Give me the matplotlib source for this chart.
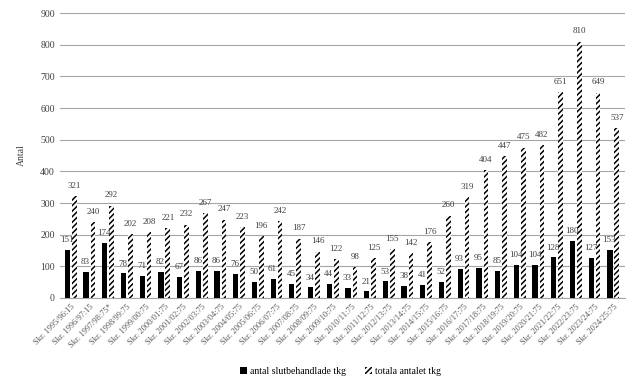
import matplotlib
matplotlib.use('Agg')
import matplotlib.pyplot as plt
import numpy as np

plt.rcParams['font.family'] = ['Liberation Serif', 'DejaVu Serif']
plt.rcParams['hatch.linewidth'] = 1.1

categories = ['Skr. 1995/96:15', 'Skr. 1996/97:15', 'Skr. 1997/98:75*', 'Skr. 1998/99:75',
              'Skr. 1999/00:75', 'Skr. 2000/01:75', 'Skr. 2001/02:75', 'Skr. 2002/03:75',
              'Skr. 2003/04:75', 'Skr. 2004/05:75', 'Skr. 2005/06:75', 'Skr. 2006/07:75',
              'Skr. 2007/08:75', 'Skr. 2008/09:75', 'Skr. 2009/10:75', 'Skr. 2010/11:75',
              'Skr. 2011/12:75', 'Skr. 2012/13:75', 'Skr. 2013/14:75', 'Skr. 2014/15:75',
              'Skr. 2015/16:75', 'Skr. 2016/17:75', 'Skr. 2017/18:75', 'Skr. 2018/19:75',
              'Skr. 2019/20:75', 'Skr. 2020/21:75', 'Skr. 2021/22:75', 'Skr. 2022/23:75',
              'Skr. 2023/24:75', 'Skr. 2024/25:75']
slutbehandlade = [151, 83, 174, 78, 71, 82, 67, 86, 86, 76, 50, 61, 45, 34, 44,
                  33, 21, 53, 38, 41, 52, 93, 95, 85, 104, 104, 128, 180, 127, 153]
totala = [321, 240, 292, 202, 208, 221, 232, 267, 247, 223, 196, 242, 187, 146, 122,
          98, 125, 155, 142, 176, 260, 319, 404, 447, 475, 482, 651, 810, 649, 537]

fig = plt.figure(figsize=(6.42, 3.85), dpi=100)
ax = fig.add_axes([0.093, 0.226, 0.880, 0.740])

x = np.arange(len(categories))
w1, w2 = 0.28, 0.25
b1 = ax.bar(x - 0.19, slutbehandlade, w1, color='black', label='antal slutbehandlade tkg', zorder=3)
b2 = ax.bar(x + 0.18, totala, w2, color='white', edgecolor='black', linewidth=0,
            hatch='//////', label='totala antalet tkg', zorder=3)

for xi, v in zip(x, slutbehandlade):
    ax.text(xi - 0.22, v + 18, str(v), ha='center', va='bottom', fontsize=6.5, color='#404040', zorder=4)
for xi, v in zip(x, totala):
    ax.text(xi + 0.18, v + 20, str(v), ha='center', va='bottom', fontsize=6.5, color='#404040', zorder=4)

ax.set_ylim(0, 900)
ax.set_xlim(-0.6, len(categories) - 0.4)
ax.set_yticks(range(0, 901, 100))
ax.yaxis.grid(True, color='#a6a6a6', linewidth=0.8, zorder=0)
ax.tick_params(axis='y', length=0, labelsize=7, colors='#404040')
ax.tick_params(axis='x', length=0, labelsize=6, colors='#595959')
ax.set_xticks(x)
ax.set_xticklabels(categories, rotation=45, ha='right', rotation_mode='anchor')
for s in ['top', 'right', 'left']:
    ax.spines[s].set_visible(False)
ax.spines['bottom'].set_color('#a6a6a6')
ax.set_ylabel('Antal', fontsize=7, color='#404040', labelpad=10)

fig.legend(handles=[b1, b2], loc='lower center', bbox_to_anchor=(0.53, 0.0), ncol=2,
           frameon=False, fontsize=7, handlelength=0.7, handleheight=0.7,
           handletextpad=0.3, columnspacing=2.0)

fig.savefig('out.png', dpi=100, facecolor='white')
